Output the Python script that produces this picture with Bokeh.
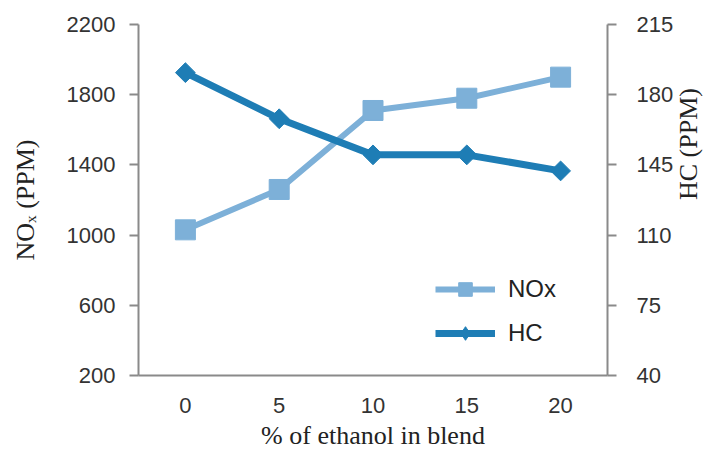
import math
from bokeh.plotting import figure
from bokeh.models import Range1d, LinearAxis, FixedTicker, Legend, LegendItem, ColumnDataSource
from bokeh.embed import file_html
from bokeh.resources import INLINE

ethanol = ["0", "5", "10", "15", "20"]
nox = [1030, 1260, 1710, 1780, 1900]
hc = [191, 168, 150, 150, 142]
nox_ticks = [200, 600, 1000, 1400, 1800, 2200]
hc_ticks = [40, 75, 110, 145, 180, 215]

NOX_COLOR = "#7DB0D8"
HC_COLOR = "#1E7DB5"
AXIS_COLOR = "#8A8A8A"

src = ColumnDataSource(dict(x=ethanol, nox=nox, hc=hc))

p = figure(width=720, height=452, x_range=ethanol, y_range=Range1d(200, 2200),
           output_backend="svg", toolbar_location=None,
           min_border_left=138, min_border_right=113, min_border_top=24, min_border_bottom=74)
p.outline_line_color = None
p.xgrid.grid_line_color = None
p.ygrid.grid_line_color = None
p.extra_y_ranges = {"hc": Range1d(40, 215)}

# left axis
ya = p.yaxis[0]
ya.ticker = FixedTicker(ticks=nox_ticks)
ya.axis_label = "NOₓ (PPM)"
ya.axis_label_text_font = "Liberation Serif"
ya.axis_label_text_font_style = "normal"
ya.axis_label_text_font_size = "26px"
ya.axis_label_text_color = "#222222"
ya.axis_label_standoff = 24
ya.major_label_text_font = "Liberation Sans"
ya.major_label_text_font_size = "22px"
ya.major_label_text_color = "#333333"
ya.major_label_standoff = 14
ya.axis_line_color = AXIS_COLOR
ya.axis_line_width = 2
ya.major_tick_line_color = AXIS_COLOR
ya.major_tick_line_width = 2
ya.major_tick_out = 9
ya.major_tick_in = 0
ya.minor_tick_line_color = None

# right axis
ra = LinearAxis(y_range_name="hc", ticker=FixedTicker(ticks=hc_ticks))
ra.axis_label = "HC (PPM)"
ra.axis_label_text_font = "Liberation Serif"
ra.axis_label_text_font_style = "normal"
ra.axis_label_text_font_size = "26px"
ra.axis_label_text_color = "#222222"
ra.axis_label_standoff = 12
try:
    ra.axis_label_orientation = math.pi / 2
except Exception:
    pass
ra.major_label_text_font = "Liberation Sans"
ra.major_label_text_font_size = "22px"
ra.major_label_text_color = "#333333"
ra.major_label_standoff = 20
ra.axis_line_color = AXIS_COLOR
ra.axis_line_width = 2
ra.major_tick_line_color = AXIS_COLOR
ra.major_tick_line_width = 2
ra.major_tick_out = 9
ra.major_tick_in = 0
ra.minor_tick_line_color = None
p.add_layout(ra, "right")

# x axis
xa = p.xaxis[0]
xa.axis_label = "% of ethanol in blend"
xa.axis_label_text_font = "Liberation Serif"
xa.axis_label_text_font_style = "normal"
xa.axis_label_text_font_size = "26px"
xa.axis_label_text_color = "#222222"
xa.axis_label_standoff = 5
xa.major_label_text_font = "Liberation Sans"
xa.major_label_text_font_size = "22px"
xa.major_label_text_color = "#333333"
xa.major_label_standoff = 16
xa.axis_line_color = AXIS_COLOR
xa.axis_line_width = 2
xa.major_tick_line_color = None
xa.minor_tick_line_color = None

l1 = p.line("x", "nox", source=src, line_color=NOX_COLOR, line_width=6)
s1 = p.scatter("x", "nox", source=src, marker="square", size=20,
               fill_color=NOX_COLOR, line_color=NOX_COLOR)
l2 = p.line("x", "hc", source=src, y_range_name="hc", line_color=HC_COLOR, line_width=7)
# diamond marker (used by the legend), covered by the larger rotated squares below
s2 = p.scatter("x", "hc", source=src, y_range_name="hc", marker="diamond", size=14,
               fill_color=HC_COLOR, line_color=HC_COLOR)
p.scatter("x", "hc", source=src, y_range_name="hc", marker="square", size=14,
          angle=math.pi / 4, fill_color=HC_COLOR, line_color=HC_COLOR)

legend = Legend(items=[LegendItem(label="NOx", renderers=[l1, s1], index=0),
                       LegendItem(label="HC", renderers=[l2, s2], index=0)],
                location=(297, 25), padding=0, margin=0, spacing=10,
                glyph_width=60, glyph_height=34, label_standoff=13,
                label_text_font="Liberation Sans", label_text_font_size="24px",
                label_text_color="#222222",
                border_line_color=None, background_fill_alpha=0)
p.add_layout(legend, "center")

open("out.html", "w").write(file_html(p, INLINE))
